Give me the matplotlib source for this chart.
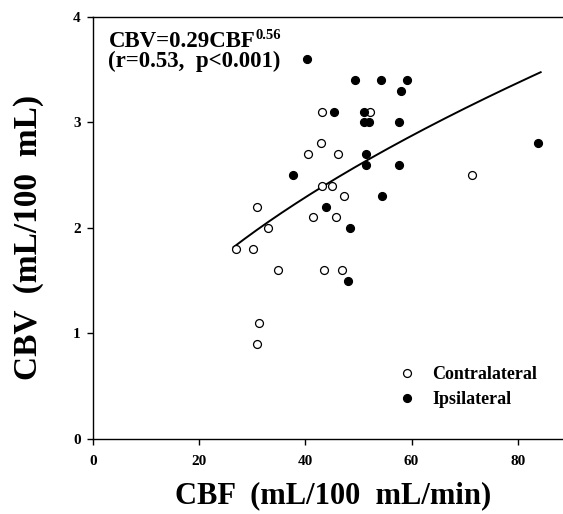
import matplotlib
matplotlib.use("Agg")
import matplotlib.pyplot as plt
import numpy as np

plt.rcParams['font.family'] = ['Liberation Serif', 'DejaVu Serif']
plt.rcParams['font.weight'] = 'bold'

# Contralateral (open circles)
contra_cbf = [43.1, 52.2, 43.0, 40.6, 46.1, 71.4, 43.1, 45.0, 47.3, 41.4, 45.8,
              30.9, 32.9, 27.0, 30.1, 34.8, 43.5, 46.9, 31.3, 30.9]
contra_cbv = [3.1, 3.1, 2.8, 2.7, 2.7, 2.5, 2.4, 2.4, 2.3, 2.1, 2.1,
              2.2, 2.0, 1.8, 1.8, 1.6, 1.6, 1.6, 1.1, 0.9]
# Ipsilateral (filled circles)
ipsi_cbf = [40.3, 49.4, 54.3, 59.2, 58.1, 45.4, 51.0, 51.0, 51.9, 57.6, 51.5,
            51.5, 57.7, 83.8, 37.6, 43.9, 54.5, 48.5, 48.1]
ipsi_cbv = [3.6, 3.4, 3.4, 3.4, 3.3, 3.1, 3.1, 3.0, 3.0, 3.0, 2.7,
            2.6, 2.6, 2.8, 2.5, 2.2, 2.3, 2.0, 1.5]

fit_a, fit_b = 0.29, 0.56
fit_range = (26.5, 84.3)

xticks = [0, 20, 40, 60, 80]
yticks = [0, 1, 2, 3, 4]

W, H = 563, 514
fig = plt.figure(figsize=(W / 100, H / 100), dpi=100)
x0, x1 = 92.7, 563.0
y0, y1 = 439.0, 16.7
ax = fig.add_axes([x0 / W, 1 - y0 / H, (x1 - x0) / W, (y0 - y1) / H])
ax.set_xlim(0, 88.5)
ax.set_ylim(0, 4)

xf = np.linspace(fit_range[0], fit_range[1], 200)
ax.plot(xf, fit_a * xf ** fit_b, color='black', lw=1.4)

ax.plot(contra_cbf, contra_cbv, 'o', ms=5.7, mfc='white', mec='black', mew=0.9,
        ls='none', label='Contralateral')
ax.plot(ipsi_cbf, ipsi_cbv, 'o', ms=5.7, mfc='black', mec='black', mew=0.9,
        ls='none', label='Ipsilateral')

ax.spines['right'].set_visible(False)
for s in ['left', 'bottom', 'top']:
    ax.spines[s].set_linewidth(1.0)

ax.set_xticks(xticks)
ax.set_yticks(yticks)
ax.set_xticklabels([str(t) for t in xticks], fontsize=11, fontweight='bold')
ax.set_yticklabels([str(t) for t in yticks], fontsize=11, fontweight='bold')
ax.tick_params(axis='x', direction='out', length=4.3, width=1, pad=7)
ax.tick_params(axis='y', direction='out', length=4.3, width=1, pad=4.3)

fig.text(333 / W, 1 - 503 / H, 'CBF  (mL/100  mL/min)', fontsize=22,
         fontweight='bold', ha='center', va='baseline')
fig.text(37 / W, 1 - 237.5 / H, 'CBV  (mL/100  mL)', fontsize=24,
         fontweight='bold', ha='center', va='baseline', rotation=90,
         rotation_mode='anchor')

fig.text(109 / W, 1 - 47 / H, 'CBV=0.29CBF', fontsize=16.5,
         fontweight='bold', ha='left', va='baseline')
fig.text(256 / W, 1 - 39 / H, '0.56', fontsize=10.5,
         fontweight='bold', ha='left', va='baseline')
fig.text(108 / W, 1 - 67 / H, '(r=0.53,  p<0.001)', fontsize=16.5,
         fontweight='bold', ha='left', va='baseline')

leg = ax.legend(loc='center left', bbox_to_anchor=((398 - x0) / (x1 - x0), (y0 - 387) / (y0 - y1)),
                frameon=False, fontsize=13, handlelength=1.0, handletextpad=0.9,
                borderpad=0, borderaxespad=0, labelspacing=0.45)
for t in leg.get_texts():
    t.set_fontweight('bold')

fig.savefig('out.png', dpi=100)
